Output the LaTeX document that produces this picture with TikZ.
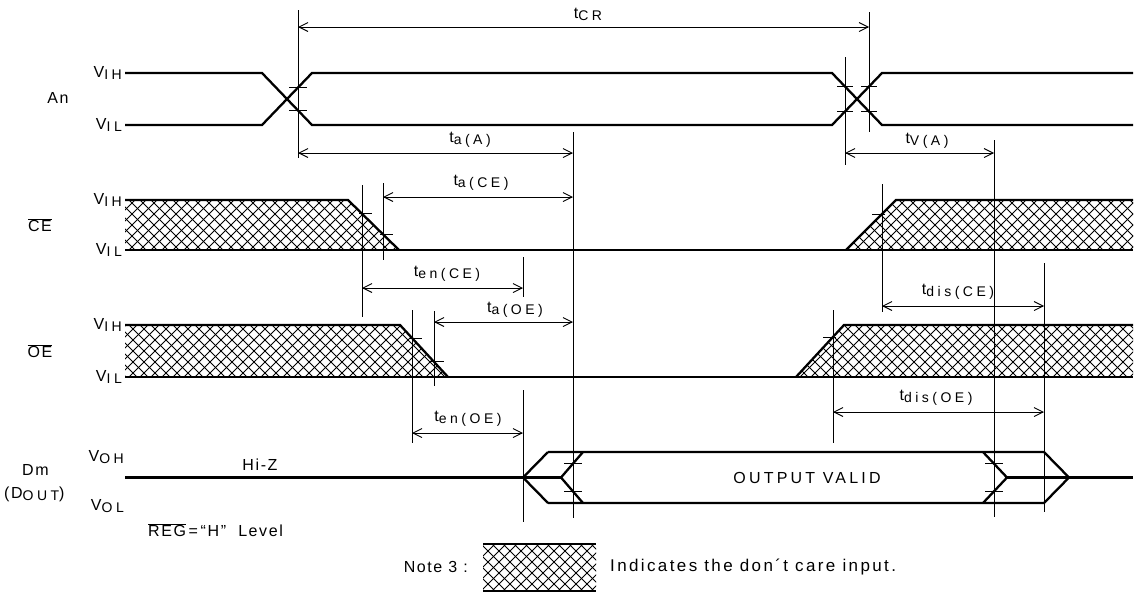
\documentclass[tikz,border=0pt]{standalone}
\usepackage{fontspec}
\setmainfont{Liberation Sans}[LetterSpace=10]
\newfontfamily\wide[LetterSpace=20]{Liberation Sans}
\newfontfamily\subf[LetterSpace=25]{Liberation Sans}
\newfontfamily\notef[LetterSpace=14]{Liberation Sans}
\usetikzlibrary{arrows.meta}
\newcommand{\sbx}[1]{\raisebox{-0.25ex}{\subf\fontsize{14}{14}\selectfont #1}}
\newcommand{\xhatch}[3]{%
  \begin{scope}
    \clip #1;
    \pgfmathsetmacro{\hh}{#3-#2}
    \foreach \i in {30,41,...,1140}{
      \draw[hl] (\i,#2) -- ++(\hh,\hh);
      \draw[hl] (\i,#3) -- ++(\hh,-\hh);
    }
  \end{scope}}
\begin{document}
\begin{tikzpicture}[x=1pt,y=-1pt,
  sig/.style={line width=2.3pt, line join=miter},
  refl/.style={line width=0.9pt},
  hl/.style={line width=0.8pt},
  dim/.style={line width=0.9pt, {Straight Barb[length=9pt,width=9pt]}-{Straight Barb[length=9pt,width=9pt]}},
  lbl/.style={font=\fontsize{16}{18}\selectfont, inner sep=0pt},
]
\useasboundingbox (0,0) rectangle (1137,595);

% ---------- An ----------
\draw[sig] (125,73) -- (262,73) -- (312,125) -- (832,125) -- (882,73) -- (1133,73);
\draw[sig] (125,125) -- (262,125) -- (312,73) -- (832,73) -- (882,125) -- (1133,125);

% ---------- CE ----------
\xhatch{(125,200) -- (348,200) -- (399,250) -- (125,250) -- cycle}{200}{250}
\xhatch{(846,250) -- (896,200) -- (1133,200) -- (1133,250) -- cycle}{200}{250}
\draw[sig] (125,200) -- (348,200) -- (399,250);
\draw[sig] (125,250) -- (1133,250);
\draw[sig] (846,250) -- (896,200) -- (1133,200);

% ---------- OE ----------
\xhatch{(125,325) -- (400,325) -- (448,377) -- (125,377) -- cycle}{325}{377}
\xhatch{(796,377) -- (844,325) -- (1133,325) -- (1133,377) -- cycle}{325}{377}
\draw[sig] (125,325) -- (400,325) -- (448,377);
\draw[sig] (125,377) -- (1133,377);
\draw[sig] (796,377) -- (844,325) -- (1133,325);

% ---------- Dm ----------
\draw[sig] (125,477.5) -- (561,477.5);
\draw[sig] (1007,477.5) -- (1133,477.5);
\draw[sig] (548,452) -- (523,477.5) -- (548,503);
\draw[sig] (548,452) -- (1044,452) -- (1069,477.5) -- (1044,503) -- (548,503);
\draw[sig] (583,452) -- (561,477.5) -- (583,503);
\draw[sig] (983,452) -- (1007,477.5) -- (983,503);

% ---------- reference verticals ----------
\coordinate (v298t) at (298,10);   \coordinate (v298b) at (298,158);
\coordinate (v869t) at (869,12);   \coordinate (v869b) at (869,132);
\coordinate (v845t) at (845,57);   \coordinate (v845b) at (845,165);
\coordinate (v573t) at (573,132);  \coordinate (v573b) at (573,518);
\coordinate (v994t) at (994,140);  \coordinate (v994b) at (994,517);
\coordinate (v362t) at (362,185);  \coordinate (v362b) at (362,317);
\coordinate (v383t) at (383,183);  \coordinate (v383b) at (383,260);
\coordinate (v523at) at (523,257); \coordinate (v523ab) at (523,297);
\coordinate (v882t) at (882,184);  \coordinate (v882b) at (882,312);
\coordinate (v1044t) at (1044,263);\coordinate (v1044b) at (1044,512);
\coordinate (v412t) at (412,310);  \coordinate (v412b) at (412,443);
\coordinate (v434t) at (434,311);  \coordinate (v434b) at (434,386);
\coordinate (v523bt) at (523,390); \coordinate (v523bb) at (523,522);
\coordinate (v833t) at (833,310);  \coordinate (v833b) at (833,443);
\foreach \v in {298,869,845,573,994,362,383,523a,882,1044,412,434,523b,833}{
  \draw[refl] (v\v t) -- (v\v b);
}

% ---------- ticks ----------
\foreach \x/\y/\a/\b in {298/87.6/-9/9, 298/110.4/-9/9,
  845/86.5/-8/8, 845/111.5/-8/8, 869/86.5/-8/8, 869/111.5/-8/8,
  362/213.7/-3/10, 383/234.3/-3/10, 882/214/-10/3,
  412/338/-3/10, 434/361.8/-3/10, 833/337/-10/3,
  573/463.4/-9/9, 573/491.6/-9/9, 994/463.5/-9/9, 994/491.5/-9/9}{
  \draw[refl] (\x+\a,\y) -- (\x+\b,\y);
}

% ---------- dimension arrows ----------
\coordinate (tcrL) at (298,27);   \coordinate (tcrR) at (869,27);
\coordinate (taaL) at (298,153);  \coordinate (taaR) at (573,153);
\coordinate (tvaL) at (845,153);  \coordinate (tvaR) at (994,153);
\coordinate (tacL) at (383,197);  \coordinate (tacR) at (573,197);
\coordinate (tecL) at (362,288);  \coordinate (tecR) at (523,288);
\coordinate (tdcL) at (882,306);  \coordinate (tdcR) at (1044,306);
\coordinate (taoL) at (434,322);  \coordinate (taoR) at (573,322);
\coordinate (teoL) at (412,433);  \coordinate (teoR) at (523,433);
\coordinate (tdoL) at (833,412);  \coordinate (tdoR) at (1044,412);
\foreach \d in {tcr,taa,tva,tac,tec,tdc,tao,teo,tdo}{
  \draw[dim] (\d L) -- (\d R);
}

% ---------- timing labels ----------
\node[lbl] (ltcr) at (588,14) {t\sbx{CR}};
\node[lbl] (ltaa) at (470,140) {t\sbx{a(A)}};
\node[lbl] (ltva) at (927,141) {t\sbx{V(A)}};
\node[lbl] (ltac) at (481,183) {t\sbx{a(CE)}};
\node[lbl] (ltec) at (447,274) {t\sbx{en(CE)}};
\node[lbl] (ltdc) at (958,292) {t\sbx{dis(CE)}};
\node[lbl] (ltao) at (515,310) {t\sbx{a(OE)}};
\node[lbl] (lteo) at (468,419) {t\sbx{en(OE)}};
\node[lbl] (ltdo) at (936,398) {t\sbx{dis(OE)}};

% ---------- signal names / levels ----------
\node[lbl] (nAn) at (58,98) {An};
\node[lbl,anchor=east] (aih) at (122,73) {V\sbx{IH}};
\node[lbl,anchor=east] (ail) at (122,125) {V\sbx{IL}};
\node[lbl] (nCE) at (40,225) {$\overline{\mbox{CE}}$};
\node[lbl,anchor=east] (cih) at (122,200) {V\sbx{IH}};
\node[lbl,anchor=east] (cil) at (122,250) {V\sbx{IL}};
\node[lbl] (nOE) at (40,351) {$\overline{\mbox{OE}}$};
\node[lbl,anchor=east] (oih) at (122,325) {V\sbx{IH}};
\node[lbl,anchor=east] (oil) at (122,377) {V\sbx{IL}};
\node[lbl,anchor=west] (nDm) at (22,470) {Dm};
\node[lbl,anchor=west] (nDout) at (4,494) {(D\sbx{OUT})};
\node[lbl,anchor=east] (doh) at (124,457) {V\sbx{OH}};
\node[lbl,anchor=east] (dol) at (124,506) {V\sbx{OL}};
\node[lbl] (hiz) at (260,465) {Hi-Z};
\node[lbl] (valid) at (807,477.5) {\wide OUTPUT VALID};
\node[lbl,anchor=west] (reg) at (148,530) {$\overline{\mbox{REG}}$\,=\,“H”\ \ Level};

% ---------- note ----------
\xhatch{(483,544) rectangle (596,591)}{544}{591}
\draw[sig] (483,544) -- (596,544);
\draw[sig] (483,591) -- (596,591);
\node[lbl,anchor=east] (note) at (468,567) {Note 3 :};
\node[lbl,anchor=west,font=\notef\fontsize{17}{19}\selectfont] (ind) at (610,567) {Indicates the don´t care input.};
\end{tikzpicture}
\end{document}
